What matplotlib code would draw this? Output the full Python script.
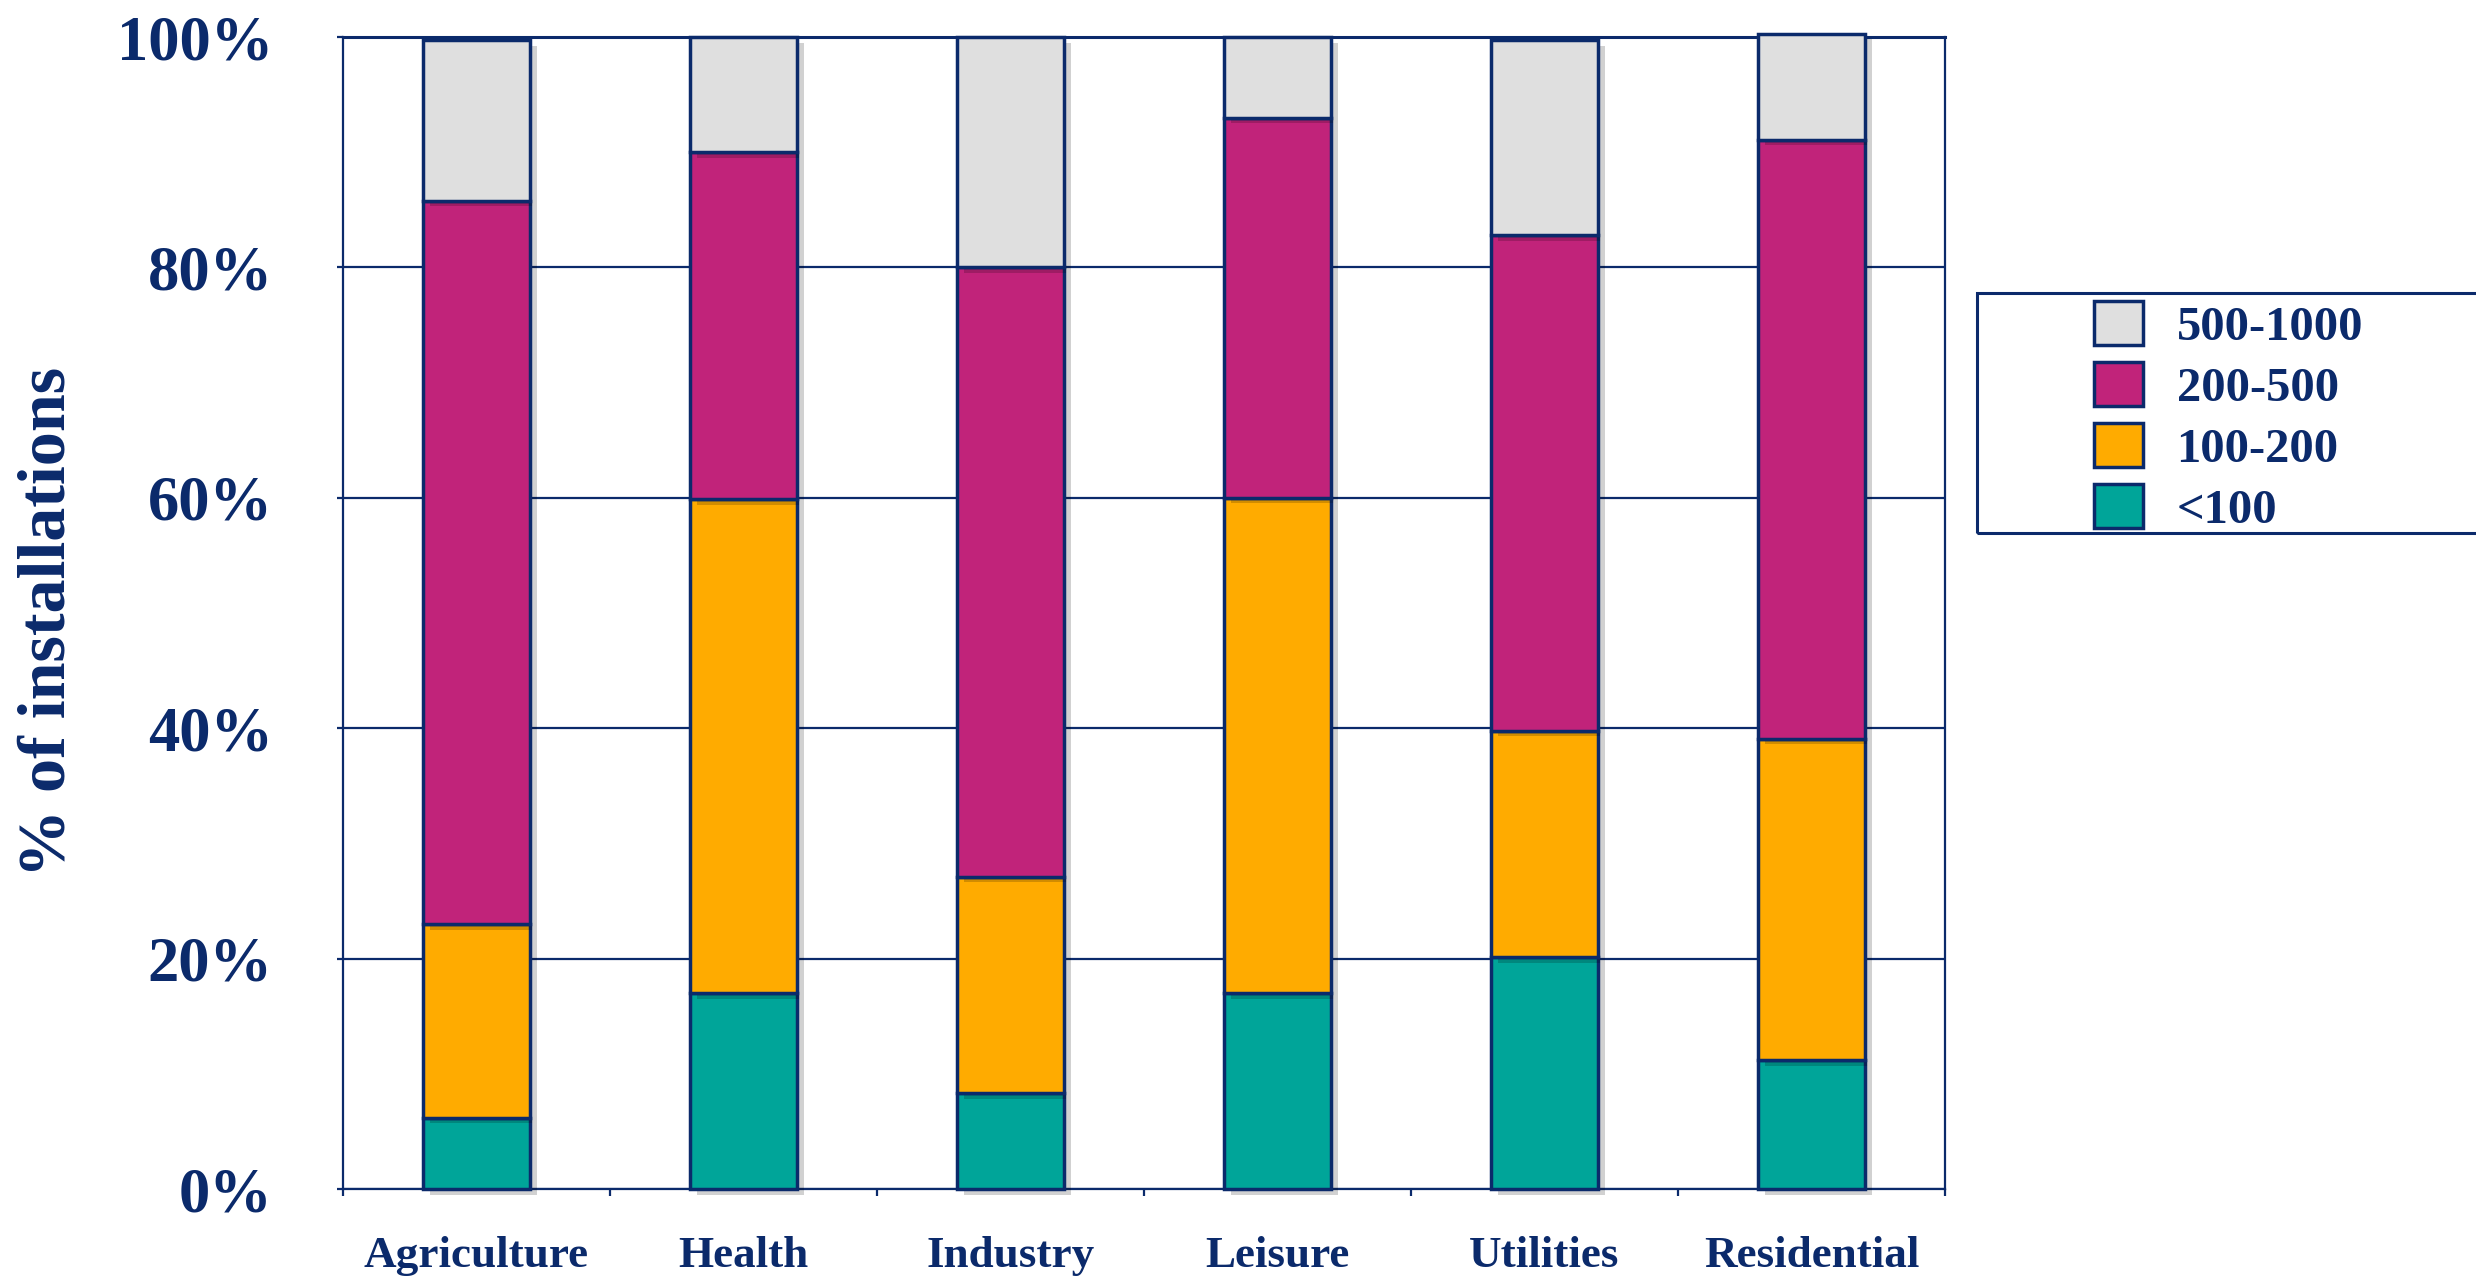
import numpy as np
import matplotlib
matplotlib.use('Agg')
import matplotlib.pyplot as plt
import matplotlib.patheffects as pe
from matplotlib.patches import Patch, Rectangle

# data (% of installations per size band)
sectors = ['Agriculture', 'Health', 'Industry', 'Leisure', 'Utilities', 'Residential']
lt100 = [6.2, 17.0, 8.3, 17.0, 20.1, 11.2]
s100_200 = [16.8, 42.9, 18.8, 43.0, 19.7, 27.9]
s200_500 = [62.8, 30.1, 52.9, 33.0, 43.0, 52.0]
s500_1000 = [13.9, 10.0, 20.0, 7.0, 16.9, 9.2]
bands = ['<100', '100-200', '200-500', '500-1000']
yticks = [0, 20, 40, 60, 80, 100]

navy = '#0b2a6b'
colors = ['#00a599', '#ffab00', '#c1237a', '#dfdfdf']

plt.rcParams['font.family'] = ['Liberation Serif', 'DejaVu Serif']
plt.rcParams['font.weight'] = 'bold'

fig = plt.figure(figsize=(24.76, 12.77), dpi=100)
ax = fig.add_axes([0.1385, 0.0689, 0.647, 0.9021])

x = np.arange(len(sectors))
shadow = [pe.SimplePatchShadow(offset=(5, -4), shadow_rgbFace='black', alpha=0.18), pe.Normal()]
bottom = np.zeros(len(sectors))
for vals, c in zip([lt100, s100_200, s200_500, s500_1000], colors):
    bars = ax.bar(x, vals, 0.4, bottom=bottom, color=c, edgecolor=navy,
                  linewidth=2.5, zorder=3, clip_on=False)
    for b in bars:
        b.set_path_effects(shadow)
    bottom += np.array(vals)

ax.set_xlim(-0.5, len(sectors) - 0.5)
ax.set_ylim(0, 100)
ax.set_yticks(yticks)
ax.set_yticklabels([str(t) + '%' for t in yticks])
ax.yaxis.grid(True, color=navy, linewidth=1.6, zorder=0)
ax.set_axisbelow(True)

ax.set_xticks(x)
ax.set_xticklabels(sectors)
ax.set_xticks(np.arange(-0.5, len(sectors)), minor=True)
ax.tick_params(axis='x', which='major', length=0, pad=34, labelsize=32.5, labelcolor=navy)
ax.tick_params(axis='x', which='minor', length=5, width=1.6, color=navy)
ax.tick_params(axis='y', length=4.5, width=1.6, color=navy, pad=46, labelsize=45, labelcolor=navy)

for s in ax.spines.values():
    s.set_color(navy)
    s.set_linewidth(1.6)
ax.spines['top'].set_linewidth(2.2)

ax.set_ylabel('% of installations', fontsize=49, color=navy, fontweight='bold')
ax.yaxis.set_label_coords(-0.165, 0.492)

# legend with its own frame (box runs off the right edge)
fig.patches.append(Rectangle((0.7985, 0.5826), 0.25, 0.188, transform=fig.transFigure,
                             fill=False, edgecolor=navy, linewidth=2.2, clip_on=False))
handles = [Patch(facecolor=c, edgecolor=navy, linewidth=2.5) for c in colors][::-1]
fig.legend(handles, bands[::-1], loc='upper left', bbox_to_anchor=(0.8457, 0.764),
           frameon=False, fontsize=35, labelcolor=navy, handlelength=1.0,
           handleheight=1.0, handletextpad=0.7, labelspacing=0.26,
           borderpad=0, borderaxespad=0)

fig.savefig('out.png', dpi=100)
